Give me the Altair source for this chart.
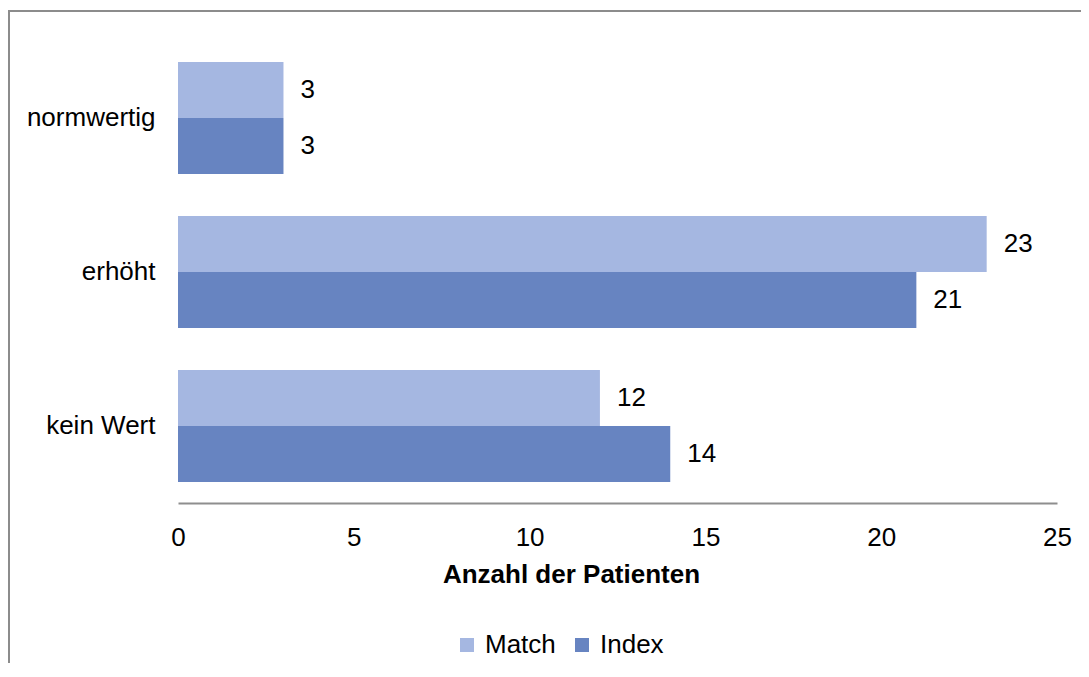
import altair as alt
import pandas as pd

categories = ["normwertig", "erhöht", "kein Wert"]
series = ["Match", "Index"]
match_values = [3, 23, 12]
index_values = [3, 21, 14]
colors = ["#A5B7E1", "#6784C1"]
x_ticks = [0, 5, 10, 15, 20, 25]

rows = []
for c, m, i in zip(categories, match_values, index_values):
    rows.append({"Kategorie": c, "Gruppe": "Match", "Wert": m})
    rows.append({"Kategorie": c, "Gruppe": "Index", "Wert": i})
df = pd.DataFrame(rows)

FONT = "Liberation Sans"

y_enc = alt.Y(
    "Kategorie:N",
    sort=categories,
    scale=alt.Scale(paddingInner=0.2727, paddingOuter=0.1364),
    axis=alt.Axis(
        title=None, domain=False, ticks=False, labelPadding=23,
        labelFontSize=26, labelColor="#000000", labelFont=FONT,
    ),
)
yoff = alt.YOffset("Gruppe:N", sort=series, scale=alt.Scale(paddingInner=0, paddingOuter=0))

x_enc = alt.X(
    "Wert:Q",
    scale=alt.Scale(domain=[0, 25], nice=False),
    axis=alt.Axis(
        values=x_ticks, grid=False, ticks=False, domain=True,
        domainColor="#8E8E8E", domainWidth=2,
        labelFontSize=26, labelColor="#000000", labelFont=FONT,
        labelPadding=21, labelBaseline="top", labelFlush=False,
        title="Anzahl der Patienten", titleFontSize=26, titleFontWeight="bold",
        titleFont=FONT, titleColor="#000000",
        titleX=393, titleY=71, titleAlign="center", titleBaseline="middle",
        titleAnchor="start",
    ),
)

bars = alt.Chart(df).mark_bar().encode(
    x=x_enc,
    y=y_enc,
    yOffset=yoff,
    color=alt.Color(
        "Gruppe:N",
        sort=series,
        scale=alt.Scale(domain=series, range=colors),
        legend=alt.Legend(
            title=None, orient="none", direction="horizontal",
            legendX=276, legendY=591, padding=0,
            symbolType="square", symbolSize=196, symbolStrokeWidth=0,
            symbolOpacity=1, labelFontSize=26, labelFont=FONT,
            labelColor="#000000", labelOffset=5, columnPadding=13,
        ),
    ),
)

labels = alt.Chart(df).mark_text(
    align="left", baseline="middle", dx=17, fontSize=26, font=FONT, color="#000000"
).encode(
    x="Wert:Q",
    y=alt.Y("Kategorie:N", sort=categories),
    yOffset=alt.YOffset("Gruppe:N", sort=series),
    text="Wert:Q",
)

frame = alt.Chart(pd.DataFrame({"k": [0]})).mark_rect(
    fillOpacity=0, stroke="#8C8C8C", strokeWidth=2
).encode(
    x=alt.value(-169), x2=alt.value(913), y=alt.value(-30), y2=alt.value(632)
)

chart = alt.layer(frame, bars, labels).properties(
    width=879,
    height=462,
    autosize=alt.AutoSizeParams(type="none"),
    padding={"left": 170, "top": 33, "right": 24, "bottom": 160},
).configure_view(stroke=None)

chart.save("out.html", embed_options={"renderer": "svg", "actions": False})
